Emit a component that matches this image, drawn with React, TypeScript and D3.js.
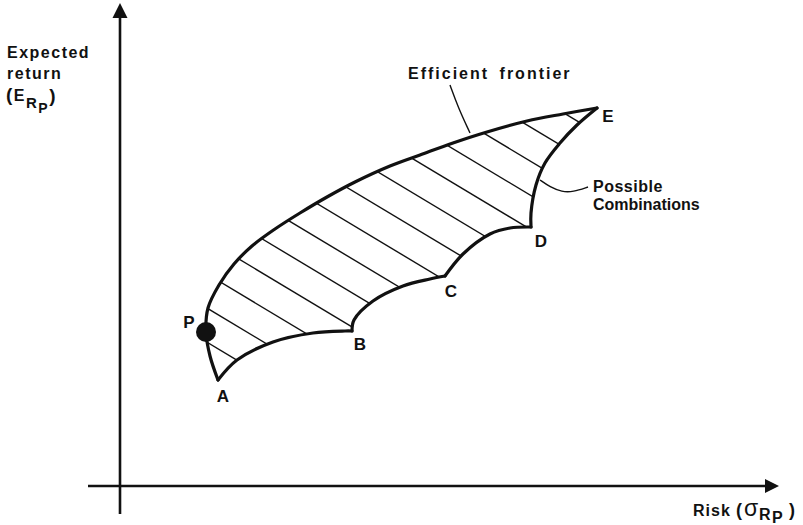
import React from "react";
import * as d3 from "d3";

type Pt = [number, number];

// Data units: risk (x) and expected return (y), arbitrary units
const frontierPts: Pt[] = [
  [19.6, 21.2], [18.0, 26.0], [17.2, 30.8], [17.6, 35.6], [19.8, 40.2], [22.8, 44.4],
  [26.4, 48.0], [31.0, 51.4], [36.0, 54.6], [41.4, 57.8], [47.0, 60.8], [54.0, 64.0],
  [60.0, 66.2], [66.6, 68.6], [73.4, 70.8], [81.4, 73.0], [88.6, 74.4], [95.4, 75.6],
];
const segAB: Pt[] = [[19.6, 21.2], [23.4, 25.2], [30.6, 28.8], [38.6, 30.6], [45.0, 31.0], [46.4, 31.0]];
const segBC: Pt[] = [[46.4, 31.0], [46.8, 33.2], [50.6, 37.0], [56.6, 40.0], [62.0, 41.4], [65.0, 42.0]];
const segCD: Pt[] = [[65.0, 42.0], [68.6, 46.4], [74.0, 50.4], [78.0, 51.6], [82.2, 51.8]];
const segDE: Pt[] = [[82.2, 51.8], [82.2, 54.6], [83.2, 60.2], [85.0, 64.6], [88.0, 68.6], [91.4, 72.2], [95.4, 75.6]];
const pointP: Pt = [17.2, 30.8];
const cornerLabels = ["A", "B", "C", "D", "E"];
const cornerPts: Pt[] = [[19.6, 21.2], [46.4, 31.0], [65.0, 42.0], [82.2, 51.8], [95.4, 75.6]];
const frontierLeader: Pt[] = [[66.0, 80.2], [67.6, 75.8], [70.0, 70.6]];
const possibleLeader: Pt[] = [[93.6, 59.8], [90.6, 58.8], [88.4, 58.8], [86.0, 59.8], [84.0, 61.2]];

const W = 803, H = 525;
const x = d3.scaleLinear().domain([0, 132]).range([120, 780]);
const y = d3.scaleLinear().domain([0, 96]).range([486, 6]);

const line = d3.line<Pt>().x(d => x(d[0])).y(d => y(d[1])).curve(d3.curveCatmullRom.alpha(0.5));
const lineRev = (pts: Pt[]) => (line([...pts].reverse()) || "").replace(/^M/, "L");
const leaderLine = d3.line<Pt>().x(d => x(d[0])).y(d => y(d[1])).curve(d3.curveBasis);

const regionPath =
  (line(frontierPts) || "") +
  lineRev(segDE) + lineRev(segCD) + lineRev(segBC) + lineRev(segAB) + "Z";

const hatchSlope = 0.6, hatchStart = 218, hatchStep = 34.1, hatchCount = 14;
const hatch = d3.range(hatchCount).map(i => hatchStart - i * hatchStep);

const labelOffsets: Pt[] = [[5, 22], [8, 19], [6, 21], [10, 20], [11, 14]];

const font = "'Liberation Sans', Arial, sans-serif";

export default function App() {
  return (
    <svg width={W} height={H} style={{ position: "absolute", left: 0, top: 0, background: "#fff" }}
      fontFamily={font} fontWeight="bold" fill="#111">
      <defs>
        <clipPath id="region"><path d={regionPath} /></clipPath>
      </defs>
      {/* axes */}
      <line x1={x(0)} y1={514} x2={x(0)} y2={16} stroke="#111" strokeWidth={2.6} />
      <path d={`M${x(0)},3 L${x(0) - 7.5},18 L${x(0) + 7.5},18 Z`} fill="#111" />
      <line x1={88} y1={y(0)} x2={768} y2={y(0)} stroke="#111" strokeWidth={2.6} />
      <path d={`M779,${y(0)} L765,${y(0) - 7} L765,${y(0) + 7} Z`} fill="#111" />

      {/* hatching */}
      <g clipPath="url(#region)">
        {hatch.map((c, i) => (
          <line key={i} x1={150} y1={150 * hatchSlope + c} x2={700} y2={700 * hatchSlope + c}
            stroke="#111" strokeWidth={1.4} />
        ))}
      </g>
      {/* boundaries */}
      <g fill="none" stroke="#111" strokeWidth={3.2} strokeLinejoin="miter" strokeLinecap="round">
        <path d={line(frontierPts) || ""} />
        {[segAB, segBC, segCD, segDE].map((s, i) => <path key={i} d={line(s) || ""} />)}
      </g>
      <circle cx={x(pointP[0])} cy={y(pointP[1])} r={10} fill="#111" />

      {/* leaders */}
      <g fill="none" stroke="#111" strokeWidth={1.4}>
        <path d={leaderLine(frontierLeader) || ""} />
        <path d={leaderLine(possibleLeader) || ""} />
      </g>

      {/* point labels */}
      <g fontSize={17} textAnchor="middle">
        {cornerLabels.map((l, i) => (
          <text key={l} x={x(cornerPts[i][0]) + labelOffsets[i][0]} y={y(cornerPts[i][1]) + labelOffsets[i][1]}>{l}</text>
        ))}
        <text x={x(pointP[0]) - 17} y={y(pointP[1]) - 4}>P</text>
      </g>

      {/* annotations */}
      <text x={408} y={79} fontSize={16} letterSpacing={2} wordSpacing={4}>Efficient frontier</text>
      <text x={593} y={192} fontSize={16} letterSpacing={0.5}>Possible</text>
      <text x={593} y={210} fontSize={16}>Combinations</text>

      {/* y axis title */}
      <g fontSize={16} letterSpacing={1.5}>
        <text x={7} y={58}>Expected</text>
        <text x={7} y={79}>return</text>
        <text x={6} y={101}>
          <tspan fontSize={19}>(</tspan>
          <tspan>E</tspan>
          <tspan fontSize={15} dy={7}>R</tspan>
          <tspan fontSize={14} dy={5}>P</tspan>
          <tspan fontSize={19} dy={-11}>)</tspan>
        </text>
      </g>
      {/* x axis title */}
      <text y={516} fontSize={16}>
        <tspan x={693} letterSpacing={1}>Risk</tspan>
        <tspan x={736} fontSize={18}>(</tspan>
        <tspan x={744} fontWeight="normal" fontSize={23}>σ</tspan>
        <tspan x={759} fontSize={16} dy={4}>R</tspan>
        <tspan x={772} fontSize={16} dy={3}>P</tspan>
        <tspan x={789} fontSize={18} dy={-7}>)</tspan>
      </text>
    </svg>
  );
}
